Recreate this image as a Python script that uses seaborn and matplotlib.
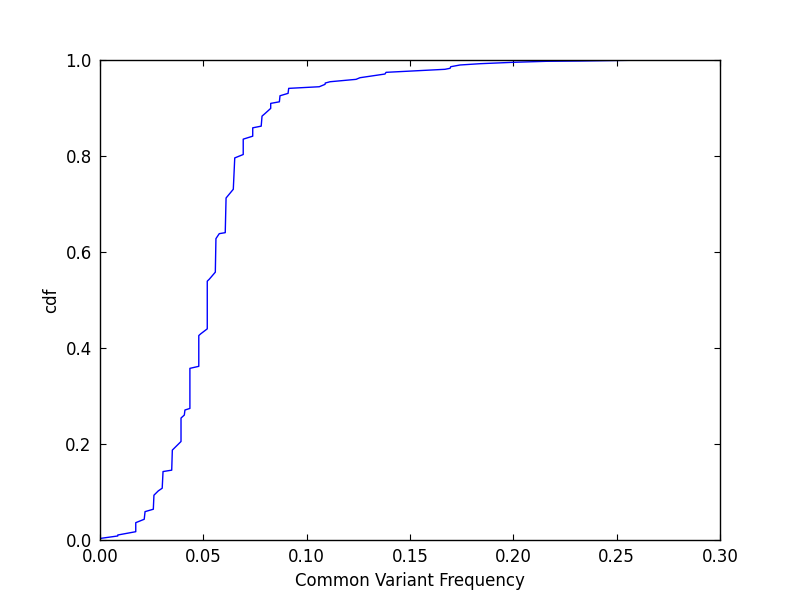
import numpy as np
import pandas as pd
import matplotlib
matplotlib.use("Agg")
import matplotlib.pyplot as plt
import seaborn as sns

freq = [0.0005, 0.0086, 0.0086, 0.0173, 0.0173, 0.0214, 0.0218, 0.0258, 0.0261,
        0.0282, 0.0301, 0.0305, 0.0347, 0.0350, 0.0392, 0.0392, 0.0408, 0.0411,
        0.0435, 0.0435, 0.0478, 0.0478, 0.0487, 0.0519, 0.0519, 0.0529, 0.0558,
        0.0561, 0.0577, 0.0606, 0.0610, 0.0645, 0.0652, 0.0693, 0.0693, 0.0739,
        0.0739, 0.0780, 0.0784, 0.0797, 0.0826, 0.0826, 0.0868, 0.0871, 0.0910,
        0.0913, 0.1061, 0.1089, 0.1090, 0.1113, 0.1239, 0.1258, 0.1379, 0.1384,
        0.1669, 0.1694, 0.1697, 0.1742, 0.1839, 0.2000, 0.2161, 0.2323, 0.2598]
cdf = [0.0035, 0.0084, 0.0104, 0.0173, 0.0361, 0.0432, 0.0591, 0.0641, 0.0933,
       0.1023, 0.1079, 0.1426, 0.1455, 0.1873, 0.2052, 0.2541, 0.2603, 0.2708,
       0.2741, 0.3576, 0.3618, 0.4259, 0.4294, 0.4399, 0.5392, 0.5434, 0.5580,
       0.6278, 0.6382, 0.6403, 0.7125, 0.7307, 0.7960, 0.8031, 0.8351, 0.8413,
       0.8587, 0.8622, 0.8831, 0.8879, 0.8992, 0.9096, 0.9129, 0.9255, 0.9305,
       0.9409, 0.9443, 0.9493, 0.9520, 0.9547, 0.9597, 0.9631, 0.9708, 0.9743,
       0.9806, 0.9827, 0.9860, 0.9896, 0.9923, 0.9952, 0.9973, 0.9979, 0.9996]

x_ticks = [0.00, 0.05, 0.10, 0.15, 0.20, 0.25, 0.30]
y_ticks = [0.0, 0.2, 0.4, 0.6, 0.8, 1.0]

sns.set_style("ticks")
plt.rcParams.update({
    "font.family": ["DejaVu Sans"],
    "xtick.direction": "in",
    "ytick.direction": "in",
    "xtick.top": True,
    "ytick.right": True,
    "xtick.major.size": 4,
    "ytick.major.size": 4,
    "axes.edgecolor": "black",
    "axes.labelcolor": "black",
    "axes.linewidth": 1.0,
})

df = pd.DataFrame({"freq": freq, "cdf": cdf})

fig, ax = plt.subplots(figsize=(8, 6), dpi=100)
# estimator=None keeps the vertical jumps (repeated x values) as drawn
sns.lineplot(data=df, x="freq", y="cdf", sort=False, estimator=None,
             color="blue", linewidth=1.0, ax=ax)

ax.set_xlim(0, 0.3)
ax.set_ylim(0, 1.0)
ax.set_xticks(x_ticks)
ax.set_yticks(y_ticks)
ax.set_xticklabels([f"{t:.2f}" for t in x_ticks], fontsize=12)
ax.set_yticklabels([f"{t:.1f}" for t in y_ticks], fontsize=12)
ax.tick_params(axis="both", which="major", pad=6, colors="black")
ax.set_xlabel("Common Variant Frequency", fontsize=12, color="black")
ax.set_ylabel("cdf", fontsize=12, color="black")

fig.subplots_adjust(left=0.125, right=0.9, bottom=0.1, top=0.9)
fig.savefig("out.png", dpi=100)
